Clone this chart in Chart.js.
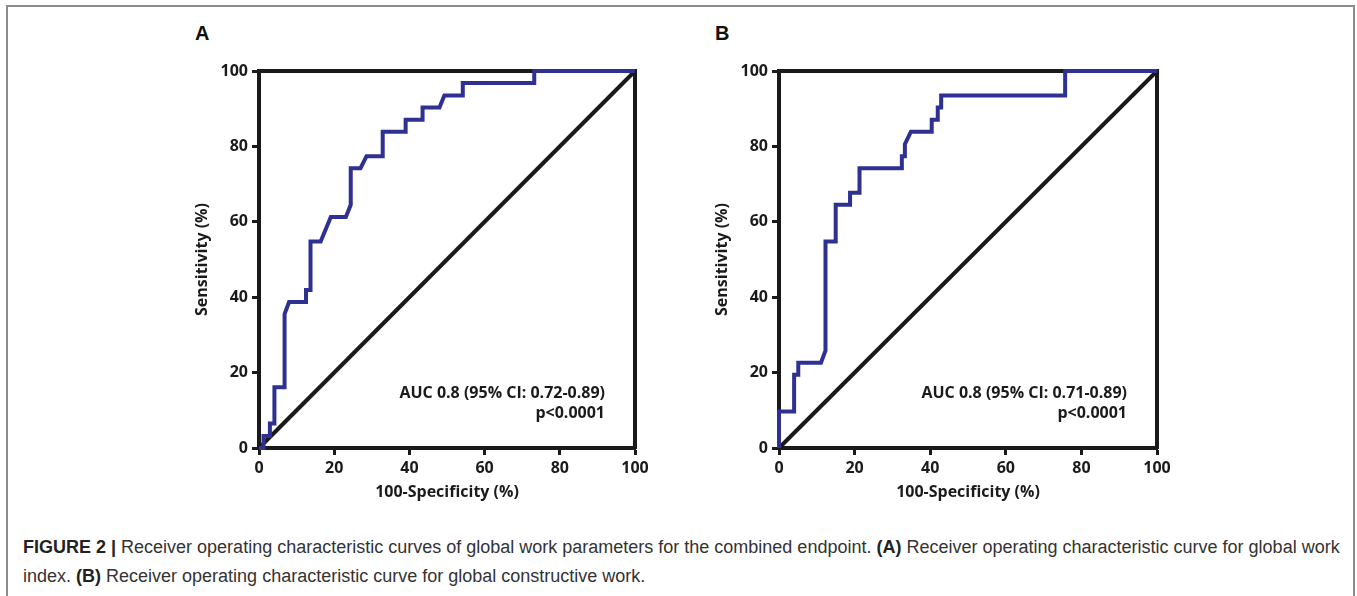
<!DOCTYPE html>
<html><head><meta charset="utf-8">
<script src="https://cdn.jsdelivr.net/npm/chart.js@4.4.1/dist/chart.umd.min.js"></script>
<style>
html,body{margin:0;padding:0;background:#fff;}
body{width:1357px;height:596px;position:relative;overflow:hidden;font-family:"Liberation Sans",Arial,sans-serif;}
#frame{position:absolute;left:6px;top:5px;width:1349px;height:640px;border:2px solid #8c8c8c;box-sizing:border-box;}
.panel{position:absolute;font:bold 20px "Liberation Sans",Arial,sans-serif;color:#111;line-height:24px;}
canvas{position:absolute;}
#caption{position:absolute;left:23px;top:533px;font-size:18px;line-height:29px;color:#333;white-space:nowrap;}
#caption b{color:#222;}
</style></head>
<body>
<div id="frame"></div>
<div class="panel" style="left:195px;top:21px">A</div>
<div class="panel" style="left:715px;top:21px">B</div>
<canvas id="chartA" width="467" height="462" style="left:193px;top:40px"></canvas>
<canvas id="chartB" width="469" height="462" style="left:713px;top:40px"></canvas>
<div id="caption"><b>FIGURE 2 |</b> Receiver operating characteristic curves of global work parameters for the combined endpoint. <b>(A)</b> Receiver operating characteristic curve for global work<br>index. <b>(B)</b> Receiver operating characteristic curve for global constructive work.</div>
<script>
// ---- data ----
const xTicks = [0, 20, 40, 60, 80, 100];
const yTicks = [0, 20, 40, 60, 80, 100];
const xTitle = '100-Specificity (%)';
const yTitle = 'Sensitivity (%)';

// Panel A: global work index ROC curve (100-specificity, sensitivity)
const rocAx = [0, 1.2, 1.2, 2.9, 2.9, 4.1, 4.1, 6.8, 6.8, 8.0, 12.5, 12.5, 13.7, 13.7, 16.4, 19.1, 23.1, 24.4, 24.4, 27.0, 28.6, 32.9, 32.9, 39.0, 39.0, 43.5, 43.5, 48.0, 49.3, 54.2, 54.2, 73.2, 73.2, 100];
const rocAy = [0, 0, 3.2, 3.2, 6.5, 6.5, 16.1, 16.1, 35.5, 38.7, 38.7, 41.9, 41.9, 54.8, 54.8, 61.3, 61.3, 64.5, 74.2, 74.2, 77.4, 77.4, 83.9, 83.9, 87.1, 87.1, 90.3, 90.3, 93.5, 93.5, 96.8, 96.8, 100, 100];

// Panel B: global constructive work ROC curve
const rocBx = [0, 0, 4.0, 4.0, 5.1, 5.1, 11.1, 12.3, 12.3, 15.0, 15.0, 18.8, 18.8, 21.3, 21.3, 32.5, 32.5, 33.3, 33.3, 34.9, 40.4, 40.4, 42.0, 42.0, 42.9, 42.9, 75.7, 75.7, 100];
const rocBy = [0, 9.7, 9.7, 19.4, 19.4, 22.6, 22.6, 25.8, 54.8, 54.8, 64.5, 64.5, 67.7, 67.7, 74.2, 74.2, 77.4, 77.4, 80.6, 83.9, 83.9, 87.1, 87.1, 90.3, 90.3, 93.5, 93.5, 100, 100];

// reference (chance) line
const refX = [0, 100];
const refY = [0, 100];

const aucA = ['AUC 0.8 (95% CI: 0.72-0.89)', 'p<0.0001'];
const aucB = ['AUC 0.8 (95% CI: 0.71-0.89)', 'p<0.0001'];

// ---- drawing ----
const ink = '#1a1a1a';
const curveColor = '#2e3192';
const fontFam = '"Open Sans", "DejaVu Sans", sans-serif';
const tickFont = {family: fontFam, size: 16, weight: 'bold'};

const aucPlugin = {
  id: 'auc',
  afterDatasetsDraw(chart, args, opts) {
    const {ctx, chartArea: a} = chart;
    ctx.save();
    ctx.font = 'bold 16px ' + fontFam;
    ctx.fillStyle = ink;
    ctx.textAlign = 'right';
    ctx.textBaseline = 'middle';
    opts.lines.forEach((t, i) => ctx.fillText(t, a.right - 30, a.bottom - 55 + 20 * i));
    ctx.restore();
  }
};

function pts(xs, ys) { return xs.map((x, i) => ({x: x, y: ys[i]})); }

function makeChart(id, xs, ys, lines) {
  const mainAxis = (pos, ticksArr, title, fitFn) => ({
    type: 'linear', position: pos, min: 0, max: 100,
    afterBuildTicks: s => { s.ticks = ticksArr.map(v => ({value: v})); },
    ticks: {font: tickFont, color: ink, padding: 4, maxRotation: 0, autoSkip: false},
    grid: {display: true, drawOnChartArea: false, drawTicks: true, tickLength: 7, tickWidth: 3, tickColor: ink},
    border: {display: true, width: 4, color: ink},
    title: {display: true, text: title, font: tickFont, color: ink, padding: 0},
    afterFit: fitFn
  });
  const boxAxis = (pos, fitFn) => ({
    type: 'linear', position: pos, min: 0, max: 100,
    ticks: {display: false},
    grid: {display: false},
    border: {display: true, width: 4, color: ink},
    afterFit: fitFn
  });
  return new Chart(document.getElementById(id), {
    type: 'scatter',
    data: {
      datasets: [
        {data: pts(xs, ys), showLine: true, borderColor: curveColor, borderWidth: 4, pointRadius: 0, tension: 0, fill: false, clip: false, borderJoinStyle: 'miter'},
        {data: pts(refX, refY), showLine: true, borderColor: ink, borderWidth: 4, pointRadius: 0, tension: 0, fill: false, clip: false}
      ]
    },
    options: {
      responsive: false, animation: false,
      layout: {padding: 0},
      plugins: {legend: {display: false}, tooltip: {enabled: false}, auc: {lines: lines}},
      scales: {
        x: mainAxis('bottom', xTicks, xTitle, s => { s.height = 54; }),
        y: mainAxis('left', yTicks, yTitle, s => { s.width = 66; }),
        x2: boxAxis('top', s => { s.height = 31; }),
        y2: boxAxis('right', s => { s.width = 25; })
      }
    },
    plugins: [aucPlugin]
  });
}

makeChart('chartA', rocAx, rocAy, aucA);
makeChart('chartB', rocBx, rocBy, aucB);
</script>
</body></html>
